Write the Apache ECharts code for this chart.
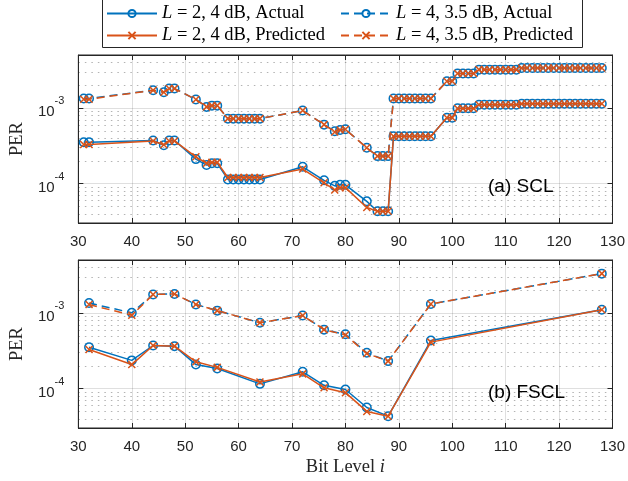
<!DOCTYPE html>
<html>
<head>
<meta charset="utf-8">
<script src="https://cdn.jsdelivr.net/npm/echarts@6/dist/echarts.min.js"></script>
<style>html,body{margin:0;padding:0;background:#fff;}#c{width:628px;height:481px;}</style>
</head>
<body>
<div id="c"></div>
<script>
// ---- Data ----
const sclBits = [31,32,44,46,47,48,52,54,55,56,
  58,59,60,61,62,63,64,72,76,78,79,80,84,86,87,88,
  89,90,91,92,93,94,95,96,99,100,101,102,103,104,
  105,106,107,108,109,110,111,112,
  113,114,115,116,117,118,119,120,121,122,123,124,125,126,127,128];

const sclL2Actual = [3.5e-4,3.5e-4,3.7e-4,3.2e-4,3.7e-4,3.7e-4,2.1e-4,1.75e-4,1.85e-4,1.85e-4,
  1.13e-4,1.13e-4,1.13e-4,1.13e-4,1.13e-4,1.13e-4,1.13e-4,1.66e-4,1.1e-4,9.3e-5,9.6e-5,9.6e-5,5.8e-5,4.3e-5,4.3e-5,4.3e-5,
  4.2e-4,4.2e-4,4.2e-4,4.2e-4,4.2e-4,4.2e-4,4.2e-4,4.2e-4,7.4e-4,7.4e-4,9.9e-4,9.9e-4,9.9e-4,9.9e-4,
  1.1e-3,1.1e-3,1.1e-3,1.1e-3,1.1e-3,1.1e-3,1.1e-3,1.1e-3,
  1.13e-3,1.13e-3,1.13e-3,1.13e-3,1.13e-3,1.13e-3,1.13e-3,1.13e-3,1.13e-3,1.13e-3,1.13e-3,1.13e-3,1.13e-3,1.13e-3,1.13e-3,1.13e-3];

const sclL2Pred = [3.27e-4,3.27e-4,3.65e-4,3.25e-4,3.65e-4,3.65e-4,2.25e-4,1.85e-4,1.9e-4,1.9e-4,
  1.2e-4,1.2e-4,1.2e-4,1.2e-4,1.2e-4,1.2e-4,1.2e-4,1.55e-4,1.02e-4,8.2e-5,8.8e-5,8.8e-5,4.8e-5,4.3e-5,4.3e-5,4.3e-5,
  4.2e-4,4.2e-4,4.2e-4,4.2e-4,4.2e-4,4.2e-4,4.2e-4,4.2e-4,7.4e-4,7.4e-4,9.8e-4,9.8e-4,9.8e-4,9.8e-4,
  1.1e-3,1.1e-3,1.1e-3,1.1e-3,1.1e-3,1.1e-3,1.1e-3,1.1e-3,
  1.13e-3,1.13e-3,1.13e-3,1.13e-3,1.13e-3,1.13e-3,1.13e-3,1.13e-3,1.13e-3,1.13e-3,1.13e-3,1.13e-3,1.13e-3,1.13e-3,1.13e-3,1.13e-3];

const sclL4Actual = [1.33e-3,1.33e-3,1.71e-3,1.61e-3,1.8e-3,1.8e-3,1.29e-3,1.03e-3,1.07e-3,1.07e-3,
  7.2e-4,7.2e-4,7.2e-4,7.2e-4,7.2e-4,7.2e-4,7.2e-4,9.2e-4,6.0e-4,4.9e-4,5.1e-4,5.2e-4,2.96e-4,2.3e-4,2.3e-4,2.3e-4,
  1.33e-3,1.33e-3,1.33e-3,1.33e-3,1.33e-3,1.33e-3,1.33e-3,1.33e-3,2.25e-3,2.25e-3,2.85e-3,2.85e-3,2.85e-3,2.85e-3,
  3.2e-3,3.2e-3,3.2e-3,3.2e-3,3.2e-3,3.2e-3,3.2e-3,3.2e-3,
  3.37e-3,3.37e-3,3.37e-3,3.37e-3,3.37e-3,3.37e-3,3.37e-3,3.37e-3,3.37e-3,3.37e-3,3.37e-3,3.37e-3,3.37e-3,3.37e-3,3.37e-3,3.37e-3];

const sclL4Pred = [1.3e-3,1.3e-3,1.71e-3,1.61e-3,1.8e-3,1.8e-3,1.29e-3,1.03e-3,1.07e-3,1.07e-3,
  7.2e-4,7.2e-4,7.2e-4,7.2e-4,7.2e-4,7.2e-4,7.2e-4,9.2e-4,6.0e-4,4.8e-4,5.1e-4,5.2e-4,2.96e-4,2.3e-4,2.3e-4,2.3e-4,
  1.33e-3,1.33e-3,1.33e-3,1.33e-3,1.33e-3,1.33e-3,1.33e-3,1.33e-3,2.25e-3,2.25e-3,2.85e-3,2.85e-3,2.85e-3,2.85e-3,
  3.2e-3,3.2e-3,3.2e-3,3.2e-3,3.2e-3,3.2e-3,3.2e-3,3.2e-3,
  3.37e-3,3.37e-3,3.37e-3,3.37e-3,3.37e-3,3.37e-3,3.37e-3,3.37e-3,3.37e-3,3.37e-3,3.37e-3,3.37e-3,3.37e-3,3.37e-3,3.37e-3,3.37e-3];

const fsclBits = [32,40,44,48,52,56,64,72,76,80,84,88,96,128];
const fsclL2Actual = [3.5e-4,2.35e-4,3.7e-4,3.63e-4,2.07e-4,1.84e-4,1.15e-4,1.66e-4,1.1e-4,9.7e-5,5.6e-5,4.3e-5,4.3e-4,1.1e-3];
const fsclL2Pred   = [3.27e-4,2.07e-4,3.7e-4,3.63e-4,2.25e-4,1.9e-4,1.22e-4,1.56e-4,1.02e-4,8.8e-5,4.97e-5,4.3e-5,4.1e-4,1.1e-3];
const fsclL4Actual = [1.35e-3,1.0e-3,1.75e-3,1.78e-3,1.29e-3,1.07e-3,7.4e-4,9.2e-4,6.0e-4,5.2e-4,2.96e-4,2.3e-4,1.31e-3,3.3e-3];
const fsclL4Pred   = [1.29e-3,9.3e-4,1.75e-3,1.78e-3,1.29e-3,1.07e-3,7.4e-4,9.2e-4,6.0e-4,5.1e-4,2.9e-4,2.3e-4,1.31e-3,3.3e-3];

const seriesNames = ['L = 2, 4 dB, Actual', 'L = 4, 3.5 dB, Actual', 'L = 2, 4 dB, Predicted', 'L = 4, 3.5 dB, Predicted'];
const panelLabels = ['(a) SCL', '(b) FSCL'];
const xTicks = {min: 30, max: 130, interval: 10};
const yRange = {min: 3e-5, max: 5e-3};

// ---- Styles ----
const BLUE = '#0072BD', ORANGE = '#D95319', AX = '#262626';
const SANS = 'Liberation Sans', SERIF = 'Liberation Serif';
const SERIF_SIZE = 18.5;
const DASH = [8, 5];
const X_PATH = 'path://M0,0L10,10M10,0L0,10';

function pairs(xs, ys) { return xs.map((x, i) => [x, ys[i]]); }

// minor (2..9 x 10^k) gridline levels inside the axis range
function minorValues() {
  const out = [];
  for (let e = Math.floor(Math.log10(yRange.min)); e <= Math.ceil(Math.log10(yRange.max)); e++) {
    for (let m = 2; m <= 9; m++) {
      const v = m * Math.pow(10, e);
      if (v > yRange.min * 1.001 && v < yRange.max * 0.999) out.push(v);
    }
  }
  return out;
}

function minorGridSeries(gi) {
  return {
    type: 'custom', xAxisIndex: gi * 2, yAxisIndex: gi * 2, silent: true, z: 1,
    data: minorValues().map(v => [xTicks.min, v]),
    renderItem: (params, api) => {
      const v = api.value(1);
      const p1 = api.coord([xTicks.min, v]);
      const p2 = api.coord([xTicks.max, v]);
      return {
        type: 'line', silent: true,
        shape: {x1: p1[0], y1: Math.round(p1[1]) + 0.5, x2: p2[0], y2: Math.round(p2[1]) + 0.5},
        style: {stroke: 'rgba(38,38,38,0.35)', lineWidth: 1, lineDash: [1.5, 5]}
      };
    },
    animation: false
  };
}

function lineSeries(name, xs, ys, gi, actual, dashed) {
  const col = actual ? BLUE : ORANGE;
  return {
    name, type: 'line', xAxisIndex: gi * 2, yAxisIndex: gi * 2,
    data: pairs(xs, ys),
    symbol: actual ? 'circle' : X_PATH,
    symbolSize: actual ? 8.5 : 7,
    showAllSymbol: true,
    lineStyle: {color: col, width: 1.5, type: dashed ? DASH : 'solid'},
    itemStyle: {color: 'rgba(0,0,0,0)', borderColor: col, borderWidth: 1.5},
    z: actual ? 3 : 4,
    animation: false
  };
}

function xAxes(gi, withName) {
  return [{
    gridIndex: gi, type: 'value', position: 'bottom', min: xTicks.min, max: xTicks.max, interval: xTicks.interval,
    axisLine: {lineStyle: {color: AX, width: 1}},
    axisTick: {inside: true, length: 5, lineStyle: {color: AX}},
    axisLabel: {fontFamily: SANS, fontSize: 15, color: AX, margin: 11},
    splitLine: {show: true, lineStyle: {color: 'rgba(38,38,38,0.15)', width: 1}},
    name: withName ? 'Bit Level {i|i}' : '',
    nameLocation: 'middle', nameGap: 30,
    nameTextStyle: {fontFamily: SERIF, fontSize: SERIF_SIZE, color: AX, rich: {i: {fontFamily: SERIF, fontStyle: 'italic', fontSize: SERIF_SIZE, color: AX}}}
  }, {
    gridIndex: gi, type: 'value', position: 'top', min: xTicks.min, max: xTicks.max, interval: xTicks.interval,
    axisLine: {lineStyle: {color: AX, width: 1}},
    axisTick: {inside: true, length: 5, lineStyle: {color: AX}},
    axisLabel: {show: false}, splitLine: {show: false}
  }];
}

function yAxes(gi) {
  return [{
    gridIndex: gi, type: 'log', logBase: 10, position: 'left', min: yRange.min, max: yRange.max,
    axisLine: {show: true, lineStyle: {color: AX, width: 1}},
    axisTick: {show: true, inside: true, length: 5, lineStyle: {color: AX}},
    axisLabel: {
      margin: 14, color: AX,
      formatter: v => {
        const e = Math.log10(v);
        if (Math.abs(e - Math.round(e)) > 1e-6) return '';
        return '{b|10}{s|' + Math.round(e) + '}';
      },
      rich: {
        b: {fontFamily: SANS, fontSize: 15, color: AX, lineHeight: 24, verticalAlign: 'bottom'},
        s: {fontFamily: SANS, fontSize: 11, color: AX, lineHeight: 12, verticalAlign: 'top'}
      }
    },
    splitLine: {show: true, lineStyle: {color: 'rgba(38,38,38,0.15)', width: 1}},
    name: 'PER', nameLocation: 'middle', nameGap: 46,
    nameTextStyle: {fontFamily: SERIF, fontSize: SERIF_SIZE, color: AX}
  }, {
    gridIndex: gi, type: 'log', logBase: 10, position: 'right', min: yRange.min, max: yRange.max,
    axisLine: {show: true, lineStyle: {color: AX, width: 1}},
    axisTick: {show: true, inside: true, length: 5, lineStyle: {color: AX}},
    axisLabel: {show: false}, splitLine: {show: false}
  }];
}

const legendRich = {
  i: {fontFamily: SERIF, fontStyle: 'italic', fontSize: SERIF_SIZE, color: '#000'},
  t: {fontFamily: SERIF, fontSize: SERIF_SIZE, color: '#000'}
};
function legendAt(name, left, top) {
  return {
    data: [name], left, top, padding: 0, itemWidth: 50, itemHeight: 9, itemGap: 0,
    selectedMode: false, z: 10,
    formatter: n => '{i|L}{t|' + n.slice(1) + '}',
    textStyle: {rich: legendRich}
  };
}

const option = {
  animation: false,
  backgroundColor: '#fff',
  grid: [
    {left: 69, right: 12, top: 55, height: 168, show: true, borderColor: AX, borderWidth: 1, backgroundColor: 'transparent'},
    {left: 69, right: 12, top: 260, height: 168, show: true, borderColor: AX, borderWidth: 1, backgroundColor: 'transparent'}
  ],
  xAxis: [...xAxes(0, false), ...xAxes(1, true)],
  yAxis: [...yAxes(0), ...yAxes(1)],
  title: [
    {text: panelLabels[0], left: 488, top: 177, padding: 0, textStyle: {fontFamily: SANS, fontSize: 19, fontWeight: 'normal', color: '#000'}},
    {text: panelLabels[1], left: 488, top: 383, padding: 0, textStyle: {fontFamily: SANS, fontSize: 19, fontWeight: 'normal', color: '#000'}}
  ],
  legend: [
    legendAt(seriesNames[0], 106, 4),
    legendAt(seriesNames[1], 340, 4),
    legendAt(seriesNames[2], 106, 26),
    legendAt(seriesNames[3], 340, 26)
  ],
  graphic: [{
    type: 'rect', z: 5, silent: true,
    shape: {x: 102.5, y: -1, width: 480, height: 48.5},
    style: {fill: '#fff', stroke: AX, lineWidth: 1}
  }],
  series: [
    minorGridSeries(0), minorGridSeries(1),
    lineSeries(seriesNames[0], sclBits, sclL2Actual, 0, true, false),
    lineSeries(seriesNames[1], sclBits, sclL4Actual, 0, true, true),
    lineSeries(seriesNames[2], sclBits, sclL2Pred, 0, false, false),
    lineSeries(seriesNames[3], sclBits, sclL4Pred, 0, false, true),
    lineSeries(seriesNames[0], fsclBits, fsclL2Actual, 1, true, false),
    lineSeries(seriesNames[1], fsclBits, fsclL4Actual, 1, true, true),
    lineSeries(seriesNames[2], fsclBits, fsclL2Pred, 1, false, false),
    lineSeries(seriesNames[3], fsclBits, fsclL4Pred, 1, false, true)
  ]
};

const chart = echarts.init(document.getElementById('c'), null, {renderer: 'canvas'});
chart.setOption(option);
</script>
</body>
</html>
